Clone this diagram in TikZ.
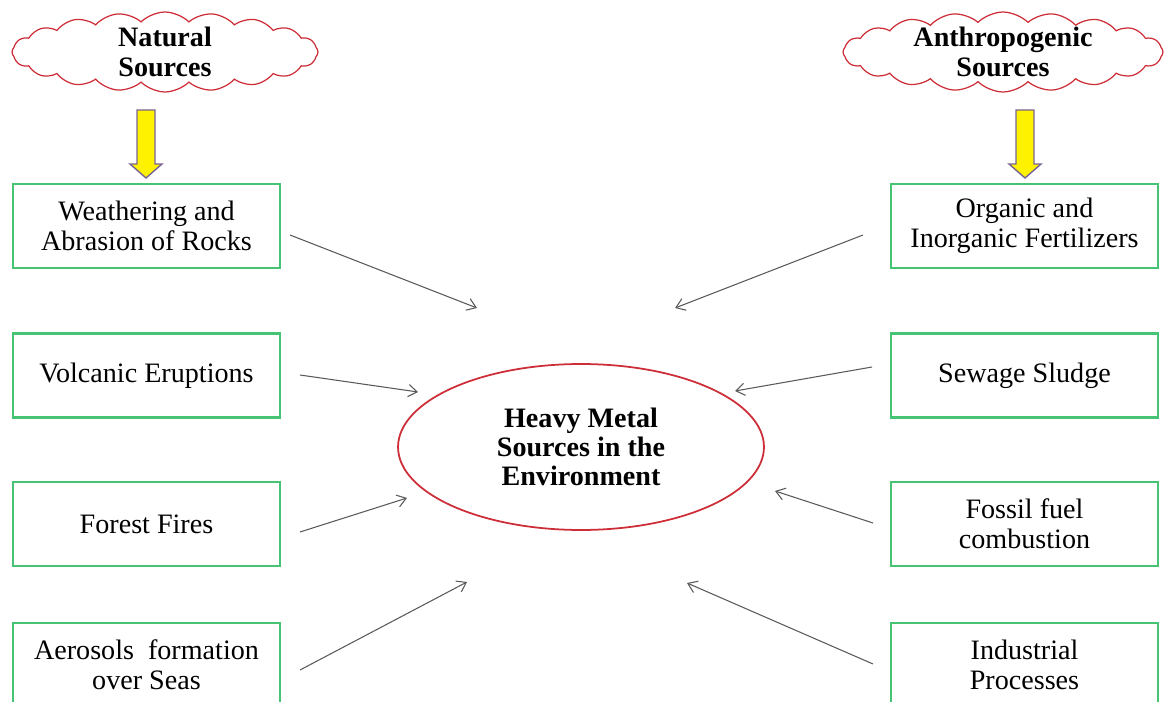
\documentclass[tikz,border=0pt]{standalone}
\usepackage{fontspec}
\setmainfont{Liberation Serif}
\usetikzlibrary{shapes, shapes.symbols, arrows.meta}

\definecolor{boxgreen}{RGB}{70,195,115}
\definecolor{cloudred}{RGB}{205,45,55}
\definecolor{arrowedge}{RGB}{120,100,150}

\begin{document}
\begin{tikzpicture}[x=0.02cm, y=-0.02cm,
	source/.style={draw=boxgreen, line width=1.2pt, minimum width=5.34cm, minimum height=1.68cm, align=center, font=\fontsize{16}{17}\selectfont},
	origin/.style={cloud, cloud puffs=20, cloud puff arc=90, aspect=3.8, draw=cloudred, line width=0.7pt, minimum height=1.6cm, inner sep=0pt},
	origintext/.style={align=center, inner sep=0pt, font=\bfseries\fontsize{16}{17.5}\selectfont},
	down/.style={draw=arrowedge, fill=yellow, line width=0.8pt},
	link/.style={draw=black!65, line width=0.6pt, -{Straight Barb[length=5pt,width=7pt]}}]

	\useasboundingbox (0,0) rectangle (1166,702);
	\clip (0,0) rectangle (1166,702);

	% the two kinds of sources
	\node[origin, minimum width=6.12cm] (natural) at (165,52) {};
	\node[origintext] (natural-text) at (natural.center) {Natural\\Sources};
	\node[origin, minimum width=6.4cm] (anthro) at (1003,52) {};
	\node[origintext] (anthro-text) at (anthro.center) {Anthropogenic\\Sources};

	\foreach \xa in {146,1025}
		\draw[down] (\xa,110) ++(-9,0) -- ++(18,0) -- ++(0,54) -- ++(7,0) -- ++(-16,14) -- ++(-16,-14) -- ++(7,0) -- cycle;

	% centre
	\node[ellipse, draw=cloudred, line width=1pt, minimum width=7.32cm, minimum height=3.32cm, align=center, font=\bfseries\fontsize{16}{16.5}\selectfont] (hm) at (581,447) {Heavy Metal\\Sources in the\\Environment};

	% natural
	\node[source] (weather) at (146.5,226) {Weathering and\\Abrasion of Rocks};
	\node[source] (volcano) at (146.5,375.5) {Volcanic Eruptions};
	\node[source] (fire) at (146.5,524) {Forest Fires};
	\node[source] (aerosol) at (146.5,665) {Aerosols\ \ formation\\over Seas};

	% anthropogenic
	\node[source] (fert) at (1024.5,226) {Organic and\\Inorganic Fertilizers};
	\node[source] (sewage) at (1024.5,375.5) {Sewage Sludge};
	\node[source] (fossil) at (1024.5,524) {Fossil fuel\\combustion};
	\node[source] (industry) at (1024.5,665) {Industrial\\Processes};

	\coordinate (weather-out) at (290,235);
	\coordinate (volcano-out) at (300,375);
	\coordinate (fire-out) at (300,532);
	\coordinate (aerosol-out) at (300,670);
	\coordinate (fert-out) at (863,235);
	\coordinate (sewage-out) at (872,367);
	\coordinate (fossil-out) at (873,523);
	\coordinate (industry-out) at (873,664);

	\coordinate (hm-1) at (477,308);
	\coordinate (hm-2) at (418,392);
	\coordinate (hm-3) at (407,498);
	\coordinate (hm-4) at (467,582);
	\coordinate (hm-5) at (675,308);
	\coordinate (hm-6) at (735,391);
	\coordinate (hm-7) at (775,491);
	\coordinate (hm-8) at (687,583);

	\draw[link] (weather-out) -- (hm-1);
	\draw[link] (volcano-out) -- (hm-2);
	\draw[link] (fire-out) -- (hm-3);
	\draw[link] (aerosol-out) -- (hm-4);
	\draw[link] (fert-out) -- (hm-5);
	\draw[link] (sewage-out) -- (hm-6);
	\draw[link] (fossil-out) -- (hm-7);
	\draw[link] (industry-out) -- (hm-8);
\end{tikzpicture}
\end{document}
